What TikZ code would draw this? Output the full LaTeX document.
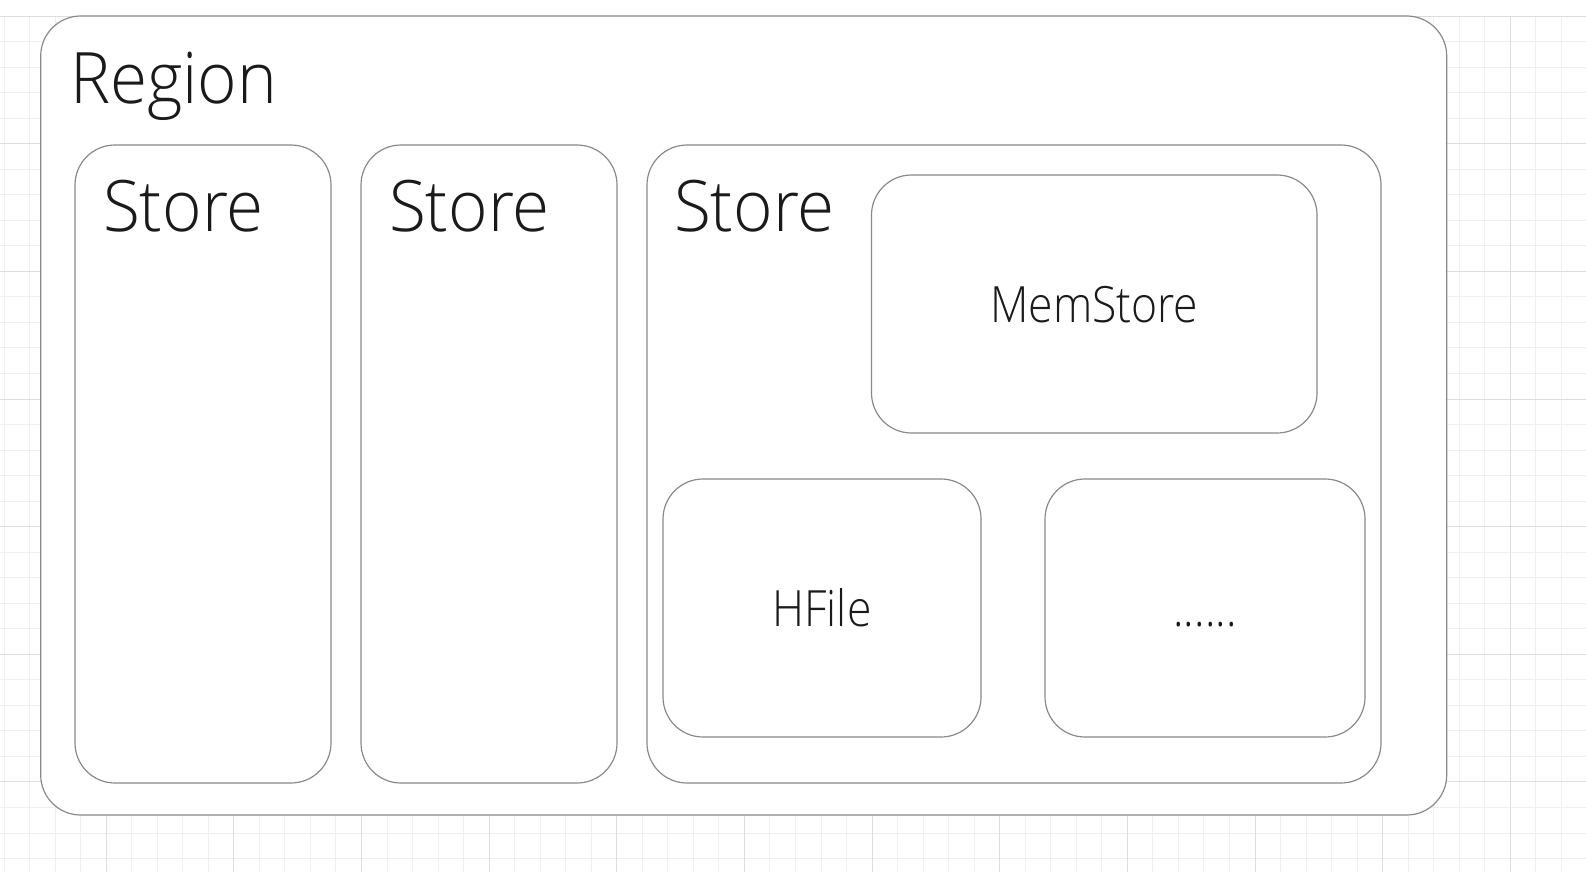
\documentclass[tikz,border=0pt]{standalone}
\usepackage{fontspec}
\setmainfont{Open Sans Light}[FakeStretch=0.95]
\newfontfamily\midfont{Open Sans Light}[FakeStretch=0.89]
\definecolor{boxgray}{RGB}{138,138,138}
\definecolor{gridminor}{RGB}{239,239,239}
\definecolor{gridmajor}{RGB}{222,222,222}
\definecolor{txt}{RGB}{26,26,26}
\begin{document}
\begin{tikzpicture}[x=1pt,y=-1pt,
  box/.style={draw=boxgray, line width=1.2pt, fill=white, rounded corners=40pt,
    inner sep=0pt, text=txt},
  midbox/.style={box, font=\midfont\fontsize{50}{60}\selectfont, text height=36pt, text depth=0pt},
  bigtxt/.style={font=\fontsize{71}{80}\selectfont, anchor=base west, inner sep=0pt, text=txt},
  gminor/.style={draw=gridminor, line width=0.9pt},
  gmajor/.style={draw=gridmajor, line width=0.9pt}]
% canvas
\path[use as bounding box, fill=white] (0,0) rectangle (1586,872);
% grid
\foreach \k in {0,...,61} {\pgfmathsetmacro\xx{4+25.53*\k}\draw[gminor] (\xx,16) -- (\xx,872);}
\foreach \k in {0,...,33} {\pgfmathsetmacro\yy{16+25.53*\k}\draw[gminor] (0,\yy) -- (1586,\yy);}
\foreach \k in {0,...,11} {\pgfmathsetmacro\xx{106.12+127.65*\k}\draw[gmajor] (\xx,16) -- (\xx,872);}
\foreach \k in {0,...,6} {\pgfmathsetmacro\yy{16+127.65*\k}\draw[gmajor] (0,\yy) -- (1586,\yy);}
% boxes
\node[box, minimum width=1406pt, minimum height=799pt] (region) at (743.7,415.5) {};
\node[bigtxt] (regionlbl) at (70,103) {Region};
\node[box, minimum width=256pt, minimum height=638pt] (store1) at (203,464) {};
\node[box, minimum width=256pt, minimum height=638pt] (store2) at (489,464) {};
\node[box, minimum width=734pt, minimum height=638pt] (store3) at (1014,464) {};
\node[bigtxt] (store1lbl) at (103,231) {Store};
\node[bigtxt] (store2lbl) at (389,231) {Store};
\node[bigtxt] (store3lbl) at (674,231) {Store};
\node[midbox, minimum width=445.5pt, minimum height=258pt] (memstore) at (1094.25,304) {MemStore};
\node[midbox, minimum width=318pt, minimum height=258pt] (hfile) at (822,608) {HFile};
\node[midbox, minimum width=320pt, minimum height=258pt] (more) at (1205,608) {......};
\end{tikzpicture}
\end{document}
